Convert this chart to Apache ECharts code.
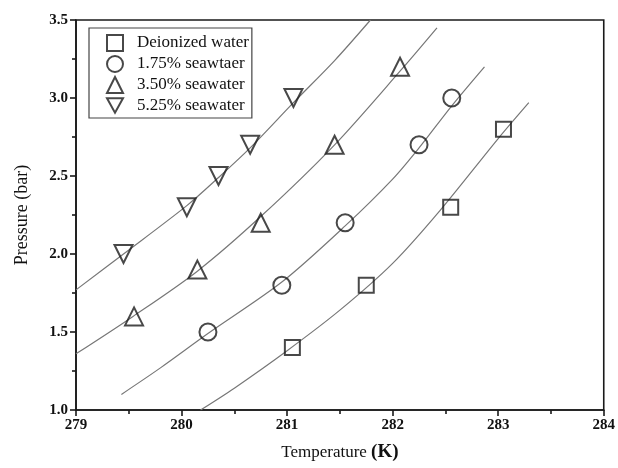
<!DOCTYPE html>
<html>
<head>
<meta charset="utf-8">
<script src="https://cdn.jsdelivr.net/npm/echarts@6/dist/echarts.min.js"></script>
<style>
html,body{margin:0;padding:0;background:#fff;}
#c{width:618px;height:468px;}
</style>
</head>
<body>
<div id="c"></div>
<script>
// Measured points [temperature K, pressure bar]
var deionized = [[281.05,1.4],[281.75,1.8],[282.55,2.3],[283.05,2.8]];
var sea175 = [[280.25,1.5],[280.95,1.8],[281.55,2.2],[282.25,2.7],[282.56,3.0]];
var sea350 = [[279.55,1.6],[280.15,1.9],[280.75,2.2],[281.45,2.7],[282.07,3.2]];
var sea525 = [[279.45,2.0],[280.05,2.3],[280.35,2.5],[280.65,2.7],[281.06,3.0]];

// Fitted curves
var fitDeionized = [[280.18,1.0],[280.5,1.14],[281.0,1.38],[281.5,1.64],[282.0,1.94],[282.45,2.28],[283.0,2.74],[283.29,2.97]];
var fit175 = [[279.43,1.1],[279.8,1.27],[280.25,1.49],[280.95,1.82],[281.55,2.18],[282.0,2.48],[282.25,2.68],[282.56,2.95],[282.87,3.2]];
var fit350 = [[279.0,1.36],[279.54,1.6],[280.15,1.89],[280.75,2.24],[281.45,2.7],[282.08,3.18],[282.42,3.45]];
var fit525 = [[279.0,1.77],[279.45,2.0],[280.05,2.31],[280.35,2.49],[280.65,2.68],[281.06,2.97],[281.45,3.24],[281.79,3.5]];

var names = ['Deionized water','1.75% seawtaer','3.50% seawater','5.25% seawater'];
var symbols = ['rect','circle','triangle','path://M0,0 L10,0 L5,9 Z'];
var sizes = [15,17,18,18];
var pointSets = [deionized, sea175, sea350, sea525];
var fitSets = [fitDeionized, fit175, fit350, fit525];

var serif = 'Liberation Serif, Times New Roman, serif';
var series = [];
fitSets.forEach(function(d){
  series.push({type:'line', data:d, smooth:0.3, showSymbol:false, silent:true,
    lineStyle:{color:'#777', width:1.2}, z:1});
});
pointSets.forEach(function(d,i){
  series.push({type:'scatter', name:names[i], data:d, symbol:symbols[i], symbolSize:sizes[i],
    itemStyle:{color:'rgba(255,255,255,0)', borderColor:'#1a1a1a', borderWidth:2}, z:3});
});

var chart = echarts.init(document.getElementById('c'), null, {renderer:'canvas'});
chart.setOption({
  animation:false,
  backgroundColor:'#fff',
  grid:{left:76,right:12,top:20,bottom:58,show:true,borderColor:'#1a1a1a',borderWidth:1.6},
  legend:{
    orient:'vertical', left:89, top:28, data:names,
    backgroundColor:'#fff', borderColor:'#444', borderWidth:1.2,
    padding:[6,3,4,17], itemGap:3, itemWidth:16, itemHeight:16,
    textStyle:{fontFamily:serif, fontSize:17, color:'#111', padding:[0,0,0,9]},
    itemStyle:{color:'#fff', borderColor:'#1a1a1a', borderWidth:2}
  },
  xAxis:{
    type:'value', min:279, max:284, interval:1,
    name:'{a|Temperature }{b|(K)}', nameLocation:'middle', nameGap:33,
    nameTextStyle:{rich:{a:{fontFamily:serif,fontSize:17,color:'#111'},b:{fontFamily:serif,fontSize:19,fontWeight:'bold',color:'#111'}}},
    axisLine:{lineStyle:{color:'#1a1a1a',width:1.6}},
    axisTick:{show:true, inside:false, length:6, lineStyle:{color:'#1a1a1a',width:1.6}},
    minorTick:{show:true, splitNumber:2, length:4, lineStyle:{color:'#1a1a1a',width:1.6}},
    splitLine:{show:false},
    axisLabel:{fontFamily:serif, fontSize:15, fontWeight:'bold', color:'#111', margin:8}
  },
  yAxis:{
    type:'value', min:1, max:3.5, interval:0.5,
    name:'Pressure (bar)', nameLocation:'middle', nameGap:45,
    nameTextStyle:{fontFamily:serif, fontSize:18, color:'#111'},
    axisLine:{lineStyle:{color:'#1a1a1a',width:1.6}},
    axisTick:{show:true, inside:false, length:6, lineStyle:{color:'#1a1a1a',width:1.6}},
    minorTick:{show:true, splitNumber:2, length:4, lineStyle:{color:'#1a1a1a',width:1.6}},
    splitLine:{show:false},
    axisLabel:{fontFamily:serif, fontSize:15, fontWeight:'bold', color:'#111', margin:8,
      formatter:function(v){return v.toFixed(1);}}
  },
  series:series
});
</script>
</body>
</html>
